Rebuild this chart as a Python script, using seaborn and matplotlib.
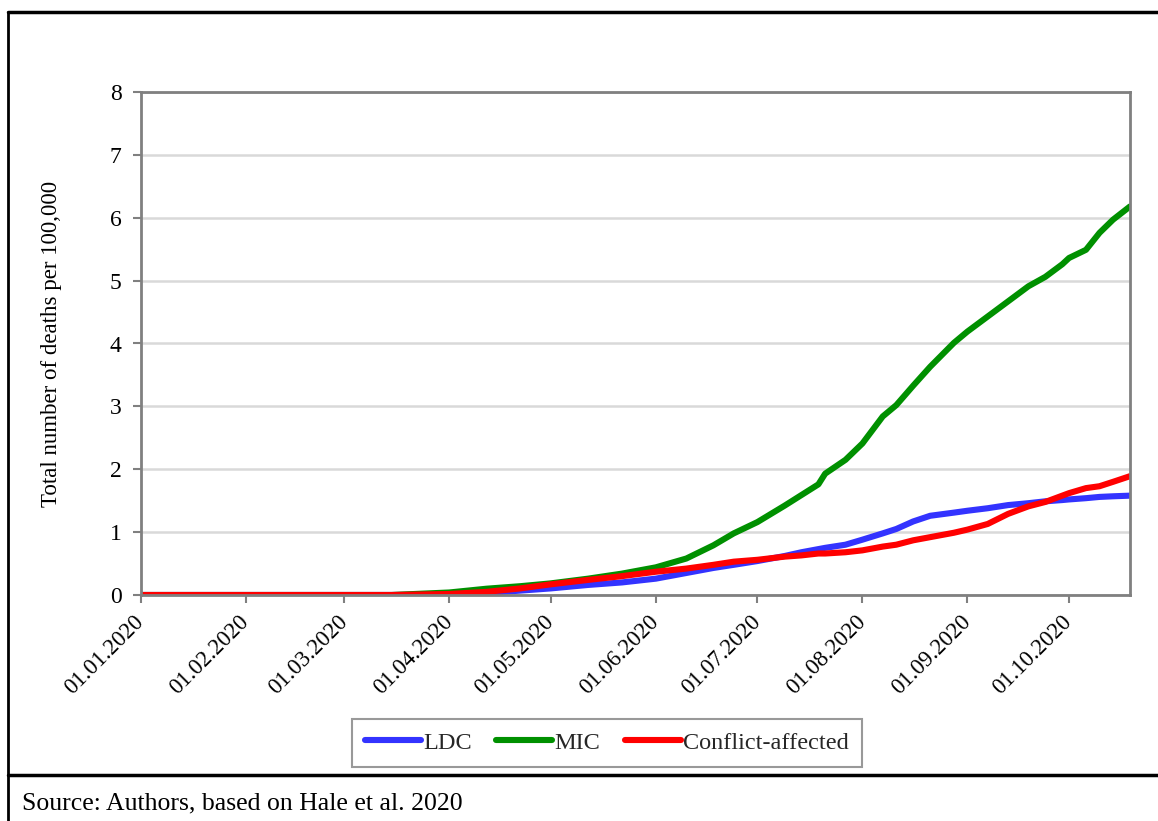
import matplotlib
matplotlib.use("Agg")
import matplotlib.pyplot as plt
from matplotlib.lines import Line2D
import seaborn as sns
import pandas as pd

dates = ["2020-01-01", "2020-03-15", "2020-04-01", "2020-04-12", "2020-04-22",
         "2020-05-01", "2020-05-12", "2020-05-22", "2020-06-01", "2020-06-10",
         "2020-06-18", "2020-06-24", "2020-07-01", "2020-07-09", "2020-07-14",
         "2020-07-19", "2020-07-21", "2020-07-27", "2020-08-01", "2020-08-07",
         "2020-08-11", "2020-08-16", "2020-08-21", "2020-08-28", "2020-09-01",
         "2020-09-07", "2020-09-13", "2020-09-19", "2020-09-24", "2020-09-29",
         "2020-10-01", "2020-10-06", "2020-10-10", "2020-10-14", "2020-10-19"]
ldc = [0, 0, 0.005, 0.03, 0.07, 0.105, 0.16, 0.20, 0.26, 0.35,
       0.43, 0.48, 0.54, 0.62, 0.68, 0.73, 0.75, 0.80, 0.88, 0.98,
       1.05, 1.17, 1.26, 1.31, 1.34, 1.38, 1.43, 1.46, 1.49, 1.51,
       1.52, 1.54, 1.56, 1.57, 1.58]
mic = [0, 0, 0.04, 0.10, 0.14, 0.185, 0.26, 0.34, 0.44, 0.58,
       0.79, 0.98, 1.16, 1.42, 1.59, 1.76, 1.93, 2.15, 2.41, 2.84,
       3.02, 3.33, 3.63, 4.01, 4.19, 4.43, 4.67, 4.91, 5.06, 5.26,
       5.36, 5.49, 5.76, 5.97, 6.18]
conflict = [0, 0, 0.016, 0.05, 0.105, 0.17, 0.24, 0.30, 0.37, 0.42,
            0.48, 0.53, 0.56, 0.61, 0.63, 0.66, 0.66, 0.68, 0.71, 0.77,
            0.80, 0.87, 0.92, 0.99, 1.04, 1.13, 1.29, 1.41, 1.48, 1.58,
            1.62, 1.70, 1.73, 1.80, 1.89]
series_names = ["LDC", "MIC", "Conflict-affected"]
colors = ["#3333FF", "#009000", "#FF0000"]
tick_dates = ["2020-01-01", "2020-02-01", "2020-03-01", "2020-04-01", "2020-05-01",
              "2020-06-01", "2020-07-01", "2020-08-01", "2020-09-01", "2020-10-01"]
tick_labels = ["01.01.2020", "01.02.2020", "01.03.2020", "01.04.2020", "01.05.2020",
               "01.06.2020", "01.07.2020", "01.08.2020", "01.09.2020", "01.10.2020"]

df = pd.concat([
    pd.DataFrame({"date": pd.to_datetime(dates), "value": vals, "group": name})
    for name, vals in zip(series_names, [ldc, mic, conflict])
])

sns.set_theme(style="white")
plt.rcParams["font.family"] = ["Liberation Serif", "DejaVu Serif"]

fig = plt.figure(figsize=(11.58, 8.21), dpi=100)
ax = fig.add_axes([141/1158, 1-595/821, (1130-141)/1158, (595-92)/821])

sns.lineplot(data=df, x="date", y="value", hue="group", hue_order=series_names,
             palette=colors, linewidth=4.4, ax=ax, legend=True,
             solid_capstyle="round")

ax.set_xlim(pd.Timestamp("2020-01-01"), pd.Timestamp("2020-10-19"))
ax.set_ylim(0, 8)
ax.set_yticks(range(0, 9))
ax.set_yticklabels([str(i) for i in range(0, 9)], fontsize=17, color="black")
ax.set_xticks(pd.to_datetime(tick_dates))
ax.set_xticklabels(tick_labels, fontsize=16.5, color="black", rotation=45,
                   ha="right", va="center", rotation_mode="anchor")
ax.tick_params(axis="x", length=6, width=1.5, color="#808080", pad=11, direction="out", bottom=True)
ax.tick_params(axis="y", length=6, width=1.5, color="#808080", pad=8, direction="out", left=True)
ax.grid(axis="y", color="#d9d9d9", linewidth=1.8)
ax.grid(axis="x", visible=False)
for s in ax.spines.values():
    s.set_visible(True)
    s.set_color("#808080")
    s.set_linewidth(2)
ax.set_xlabel("")
ax.set_ylabel("Total number of deaths per 100,000", fontsize=16.5, color="black", labelpad=34)

handles, labels = ax.get_legend_handles_labels()
leg = ax.legend(handles, labels, loc="center", bbox_to_anchor=(607/1158, 1-743/821),
                bbox_transform=fig.transFigure, ncol=3, fontsize=17.5, frameon=True,
                fancybox=False, edgecolor="#808080", handlelength=2.3, handletextpad=0.1,
                columnspacing=1.0, borderpad=0.55)
leg.get_frame().set_linewidth(1.5)
for h in leg.get_lines():
    h.set_linewidth(4.4)
    h.set_solid_capstyle("round")

# outer frame lines of the figure box
fig.add_artist(Line2D([8/1158, 8/1158], [0, 1-12/821], transform=fig.transFigure,
                      color="black", linewidth=2))
fig.add_artist(Line2D([8/1158, 1], [1-12/821, 1-12/821], transform=fig.transFigure,
                      color="black", linewidth=2.5))
fig.add_artist(Line2D([8/1158, 1], [1-775/821, 1-775/821], transform=fig.transFigure,
                      color="black", linewidth=2.5))

fig.text(22/1158, 1-803/821, "Source: Authors, based on Hale et al. 2020",
         fontsize=18.5, color="black", ha="left", va="center")

fig.savefig("out.png", dpi=100)
